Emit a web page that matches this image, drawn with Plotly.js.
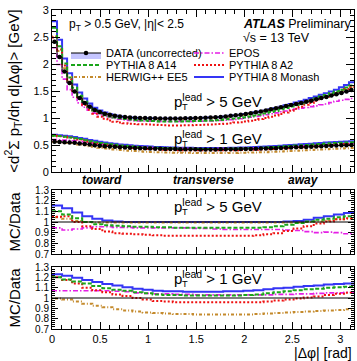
<!DOCTYPE html>
<html><head><meta charset="utf-8">
<script src="https://cdn.plot.ly/plotly-3.0.1.min.js"></script>
<style>html,body{margin:0;padding:0;background:#fff}#chart{width:357px;height:361px}</style>
</head><body><div id="chart"></div>
<script>
// ---------------- data ----------------
// main panel: 60 bins in |dphi| from 0 to pi
const up_data   = [2.41,2.13,1.86,1.65,1.49,1.37,1.28,1.21,1.15,1.11, 1.08,1.06,1.04,1.03,1.02,1.01,1.005,1.0,1.0,0.995, 0.995,0.99,0.99,0.99,0.99,0.99,0.995,0.995,1.0,1.0, 1.005,1.01,1.015,1.02,1.03,1.04,1.05,1.06,1.075,1.09, 1.105,1.12,1.14,1.16,1.18,1.20,1.22,1.24,1.26,1.28, 1.30,1.32,1.345,1.37,1.39,1.415,1.44,1.465,1.49,1.52];
const up_monash = [2.79,2.45,2.10,1.83,1.62,1.47,1.36,1.27,1.19,1.14, 1.10,1.07,1.045,1.03,1.02,1.01,1.005,1.0,1.0,0.995, 0.995,0.99,0.99,0.99,0.99,0.99,0.995,0.995,1.0,1.0, 1.005,1.01,1.015,1.02,1.03,1.04,1.05,1.06,1.075,1.09, 1.105,1.12,1.14,1.165,1.185,1.21,1.235,1.26,1.285,1.31, 1.34,1.37,1.40,1.43,1.46,1.49,1.525,1.57,1.61,1.66];
const up_a14    = [2.67,2.33,2.01,1.75,1.56,1.41,1.30,1.21,1.14,1.09, 1.05,1.03,1.01,0.995,0.98,0.97,0.96,0.955,0.955,0.945, 0.945,0.935,0.935,0.935,0.935,0.935,0.94,0.94,0.945,0.945, 0.95,0.955,0.96,0.965,0.975,0.985,0.99,1.0,1.015,1.03, 1.045,1.06,1.085,1.11,1.13,1.16,1.185,1.215,1.24,1.27, 1.30,1.33,1.36,1.40,1.425,1.46,1.49,1.525,1.565,1.60];
const up_herwig = [2.51,2.24,1.92,1.675,1.50,1.37,1.275,1.205,1.145,1.105, 1.075,1.055,1.035,1.025,1.015,1.005,1.0,0.995,0.995,0.99, 0.99,0.985,0.985,0.985,0.985,0.985,0.99,0.99,0.995,0.995, 1.0,1.005,1.01,1.015,1.025,1.035,1.045,1.055,1.07,1.085, 1.10,1.115,1.135,1.155,1.175,1.195,1.215,1.235,1.255,1.275, 1.30,1.32,1.345,1.375,1.40,1.43,1.46,1.49,1.525,1.565];
const up_epos   = [2.30,1.99,1.72,1.525,1.385,1.28,1.20,1.145,1.09,1.06, 1.03,1.01,0.99,0.98,0.965,0.955,0.95,0.945,0.945,0.94, 0.94,0.935,0.935,0.935,0.935,0.935,0.935,0.935,0.94,0.94, 0.945,0.945,0.95,0.955,0.96,0.97,0.975,0.985,1.0,1.015, 1.03,1.04,1.06,1.08,1.095,1.115,1.13,1.15,1.165,1.18, 1.195,1.21,1.225,1.245,1.26,1.285,1.31,1.33,1.345,1.36];
const up_a2     = [2.49,2.27,1.97,1.715,1.505,1.355,1.24,1.155,1.08,1.025, 0.985,0.955,0.93,0.915,0.905,0.895,0.89,0.885,0.885,0.88, 0.875,0.87,0.865,0.86,0.86,0.86,0.865,0.865,0.87,0.87, 0.875,0.88,0.885,0.89,0.895,0.905,0.915,0.92,0.935,0.95, 0.965,0.98,1.00,1.025,1.045,1.075,1.10,1.135,1.17,1.21, 1.245,1.28,1.32,1.36,1.395,1.43,1.465,1.50,1.535,1.575];

const lo_data   = [0.56,0.557,0.552,0.547,0.54,0.53,0.52,0.508,0.497,0.487, 0.479,0.472,0.466,0.46,0.455,0.45,0.446,0.442,0.438,0.435, 0.432,0.43,0.428,0.426,0.424,0.422,0.421,0.42,0.419,0.418, 0.418,0.418,0.418,0.419,0.42,0.421,0.422,0.424,0.426,0.428, 0.43,0.433,0.436,0.439,0.442,0.445,0.449,0.453,0.457,0.461, 0.465,0.469,0.473,0.477,0.482,0.486,0.49,0.494,0.497,0.50];
const lo_monash = [0.689,0.682,0.673,0.662,0.648,0.631,0.614,0.594,0.577,0.56, 0.546,0.533,0.522,0.51,0.503,0.495,0.488,0.481,0.475,0.47, 0.465,0.461,0.457,0.454,0.452,0.449,0.448,0.447,0.445,0.443, 0.443,0.443,0.443,0.444,0.446,0.448,0.45,0.453,0.456,0.459, 0.463,0.467,0.472,0.477,0.482,0.488,0.494,0.5,0.506,0.512, 0.518,0.525,0.531,0.538,0.547,0.552,0.557,0.562,0.566,0.57];
const lo_a14    = [0.672,0.666,0.654,0.64,0.626,0.61,0.588,0.569,0.552,0.536, 0.522,0.512,0.503,0.492,0.485,0.477,0.471,0.464,0.458,0.452, 0.447,0.443,0.441,0.439,0.435,0.433,0.432,0.431,0.429,0.428, 0.428,0.428,0.428,0.429,0.43,0.432,0.433,0.435,0.437,0.44, 0.443,0.448,0.453,0.459,0.464,0.47,0.476,0.483,0.49,0.496, 0.502,0.509,0.515,0.52,0.528,0.533,0.538,0.543,0.548,0.553];
const lo_herwig = [0.56,0.554,0.546,0.536,0.524,0.509,0.494,0.478,0.462,0.448, 0.436,0.425,0.417,0.407,0.4,0.394,0.388,0.382,0.377,0.372, 0.368,0.365,0.362,0.36,0.358,0.357,0.356,0.355,0.352,0.351, 0.351,0.351,0.351,0.352,0.353,0.354,0.354,0.356,0.358,0.36, 0.363,0.366,0.368,0.373,0.376,0.38,0.386,0.39,0.394,0.399, 0.404,0.408,0.413,0.418,0.422,0.427,0.432,0.436,0.44,0.444];
const lo_epos   = [0.599,0.596,0.591,0.585,0.578,0.567,0.556,0.544,0.532,0.521, 0.513,0.505,0.498,0.49,0.483,0.477,0.471,0.464,0.458,0.454, 0.45,0.447,0.445,0.442,0.439,0.437,0.435,0.433,0.432,0.431, 0.431,0.431,0.431,0.432,0.433,0.434,0.435,0.437,0.439,0.441, 0.443,0.446,0.449,0.452,0.456,0.46,0.465,0.47,0.475,0.48, 0.485,0.49,0.495,0.5,0.505,0.51,0.514,0.518,0.522,0.526];
const lo_a2     = [0.672,0.663,0.651,0.637,0.621,0.602,0.582,0.559,0.539,0.521, 0.508,0.496,0.485,0.474,0.464,0.455,0.446,0.438,0.429,0.424, 0.419,0.415,0.411,0.409,0.407,0.405,0.404,0.403,0.402,0.401, 0.401,0.401,0.401,0.402,0.403,0.404,0.405,0.407,0.409,0.411, 0.413,0.418,0.42,0.424,0.43,0.434,0.44,0.447,0.452,0.459, 0.465,0.472,0.478,0.486,0.494,0.5,0.506,0.512,0.518,0.524];

// ratio panels (MC/Data): 30 bins from 0 to pi
const r5_monash = [1.155,1.13,1.09,1.055,1.03,1.015,1.005,1.0,1.0,1.0, 1.0,1.0,1.0,1.0,1.0,1.0,1.0,1.0,1.0,1.0, 1.0,1.0,1.0,1.005,1.01,1.02,1.04,1.055,1.07,1.085];
const r5_a14    = [1.10,1.07,1.035,1.0,0.98,0.97,0.965,0.96,0.955,0.955, 0.95,0.95,0.945,0.945,0.945,0.945,0.945,0.945,0.945,0.945, 0.945,0.95,0.96,0.975,0.99,1.005,1.02,1.03,1.045,1.055];
const r5_herwig = [1.045,1.03,1.01,1.0,0.995,0.995,0.995,0.995,0.995,0.995, 0.995,0.995,0.995,0.995,0.995,0.995,0.995,0.995,0.995,0.995, 0.995,0.995,0.995,0.995,0.995,1.0,1.005,1.015,1.025,1.03];
const r5_epos   = [0.945,0.925,0.935,0.945,0.955,0.955,0.95,0.95,0.945,0.945, 0.945,0.945,0.945,0.945,0.94,0.94,0.935,0.93,0.93,0.93, 0.93,0.93,0.93,0.925,0.92,0.91,0.9,0.905,0.9,0.89];
const r5_a2     = [1.05,1.055,1.0,0.96,0.935,0.91,0.895,0.89,0.885,0.88, 0.875,0.87,0.87,0.87,0.87,0.87,0.87,0.87,0.87,0.87, 0.875,0.885,0.895,0.915,0.94,0.96,0.985,1.005,1.025,1.035];

const r1_monash = [1.23,1.215,1.195,1.175,1.155,1.135,1.12,1.105,1.09,1.08, 1.07,1.065,1.065,1.06,1.06,1.06,1.06,1.065,1.065,1.07, 1.075,1.085,1.095,1.10,1.11,1.115,1.12,1.13,1.135,1.14];
const r1_a14    = [1.20,1.18,1.16,1.14,1.115,1.095,1.08,1.07,1.055,1.045, 1.035,1.03,1.03,1.025,1.025,1.025,1.025,1.025,1.025,1.03, 1.035,1.045,1.055,1.065,1.075,1.085,1.09,1.10,1.105,1.11];
const r1_herwig = [0.995,0.985,0.965,0.945,0.925,0.91,0.89,0.88,0.87,0.86, 0.855,0.85,0.845,0.845,0.84,0.84,0.84,0.84,0.84,0.84, 0.845,0.85,0.855,0.86,0.865,0.87,0.875,0.88,0.885,0.89];
const r1_epos   = [1.07,1.07,1.07,1.07,1.07,1.07,1.065,1.06,1.05,1.045, 1.04,1.04,1.035,1.035,1.03,1.03,1.03,1.03,1.03,1.03, 1.03,1.03,1.035,1.035,1.04,1.04,1.045,1.05,1.05,1.055];
const r1_a2     = [1.20,1.175,1.14,1.10,1.075,1.055,1.035,1.02,1.0,0.985, 0.97,0.965,0.96,0.96,0.96,0.96,0.96,0.96,0.96,0.96, 0.96,0.965,0.975,0.985,0.995,1.005,1.015,1.03,1.04,1.05];

const dataRelUnc = 0.015;   // relative size of the data band
const mainTicks  = [0, 0.5, 1, 1.5, 2, 2.5, 3];
const ratioTicks = [0.7, 0.8, 0.9, 1, 1.1, 1.2, 1.3];
const ratioTickText = ['0.7','0.8','0.9','1','1.1','1.2','1.3'];
const xTicks = [0, 0.5, 1, 1.5, 2, 2.5, 3];
const regionNames = ['toward','transverse','away'];
const regionCentres = [Math.PI/6, Math.PI/2, 5*Math.PI/6];

// ---------------- helpers ----------------
const PI = Math.PI;
const edges   = n => Array.from({length:n+1},(_,i)=>i*PI/n);
const centres = n => Array.from({length:n},(_,i)=>(i+0.5)*PI/n);
const stepY   = v => v.concat([v[v.length-1]]);

const FONT = 'Liberation Sans, Arial, Helvetica, sans-serif';
const ST = {
  monash:{name:'PYTHIA 8 Monash', color:'#3535f5', dash:'solid', width:2, leg:'legend6'},
  a14:   {name:'PYTHIA 8 A14', color:'#1aa51a', dash:'4px,2px', width:2, leg:'legend2'},
  herwig:{name:'HERWIG++ EE5', color:'#c48a2c', dash:'1px,2px,3px,2px', width:2, leg:'legend3'},
  epos:  {name:'EPOS', color:'#e51ee5', dash:'5px,2px,1.5px,2px', width:1.6, leg:'legend4'},
  a2:    {name:'PYTHIA 8 A2', color:'#ee1111', dash:'2px,2px', width:2, leg:'legend5'}
};

const traces = [];
function model(vals, key, xa, ya, show){
  const s = ST[key], n = vals.length;
  traces.push({type:'scatter', mode:'lines', x:edges(n), y:stepY(vals), xaxis:xa, yaxis:ya,
    name:s.name, legend:s.leg, showlegend:show, hoverinfo:'skip',
    line:{shape:'hv', color:s.color, dash:s.dash, width:s.width}});
}
function dataSeries(vals, show){
  const n = vals.length, c = centres(n);
  traces.push({type:'scatter', mode:'lines', x:c, y:vals.map(v=>v*(1-dataRelUnc)), xaxis:'x', yaxis:'y',
    showlegend:false, hoverinfo:'skip', line:{shape:'hvh', width:0}});
  traces.push({type:'scatter', mode:'lines+markers', x:c, y:vals, xaxis:'x', yaxis:'y',
    name:'DATA (uncorrected)', legend:'legend', showlegend:show, hoverinfo:'skip',
    fill:'tonexty', fillcolor:'rgba(150,150,255,0.55)',
    line:{shape:'hvh', color:'#000', width:1}, marker:{color:'#000', size:4.5, symbol:'circle'}});
  traces.push({type:'scatter', mode:'lines', x:c, y:vals.map(v=>v*(1+dataRelUnc)), xaxis:'x', yaxis:'y',
    showlegend:false, hoverinfo:'skip', fill:'tonexty', fillcolor:'rgba(150,150,255,0.55)',
    line:{shape:'hvh', width:0}});
}

// main panel
model(up_monash,'monash','x','y',true);  model(lo_monash,'monash','x','y',false);
model(up_herwig,'herwig','x','y',true);  model(lo_herwig,'herwig','x','y',false);
model(up_epos,'epos','x','y',true);      model(lo_epos,'epos','x','y',false);
model(up_a2,'a2','x','y',true);          model(lo_a2,'a2','x','y',false);
model(up_a14,'a14','x','y',true);        model(lo_a14,'a14','x','y',false);
dataSeries(up_data, true);
dataSeries(lo_data, false);
// ratio panels
model(r5_monash,'monash','x2','y2',false); model(r5_herwig,'herwig','x2','y2',false);
model(r5_epos,'epos','x2','y2',false);     model(r5_a2,'a2','x2','y2',false);
model(r5_a14,'a14','x2','y2',false);
model(r1_monash,'monash','x3','y3',false); model(r1_herwig,'herwig','x3','y3',false);
model(r1_epos,'epos','x3','y3',false);     model(r1_a2,'a2','x3','y3',false);
model(r1_a14,'a14','x3','y3',false);

// ---------------- layout ----------------
const L=52, R=3, T=10, B=32, W=357, H=361;
const PX = x => (x-L)/(W-L-R);
const PY = y => (H-B-y)/(H-T-B);

const axBase = {showline:true, linecolor:'#000', linewidth:1, mirror:'ticks', ticks:'inside',
  tickcolor:'#000', zeroline:false, showgrid:false, tickfont:{size:11, color:'#000'}};
const xBase = Object.assign({}, axBase, {range:[0,PI], tickvals:xTicks, ticklen:7,
  minor:{ticks:'inside', dtick:0.1, tick0:0, ticklen:4, tickcolor:'#000'}});

function legendAt(xp, yp){
  return {x:PX(xp), y:PY(yp), xanchor:'left', yanchor:'middle', bgcolor:'rgba(0,0,0,0)',
    borderwidth:0, itemwidth:30, font:{size:11, family:FONT, color:'#000'}};
}

function leadLabel(txt, xp, yp, size){
  return [
    {text:'p<sup>lead</sup> &gt; '+txt, x:PX(xp), y:PY(yp), xref:'paper', yref:'paper',
     xanchor:'left', yanchor:'middle', showarrow:false, font:{size:size}},
    {text:'T', x:PX(xp), y:PY(yp), xref:'paper', yref:'paper', xanchor:'left', yanchor:'middle',
     xshift:size*0.56, yshift:-size*0.45, showarrow:false, font:{size:size*0.62}}
  ];
}

const annotations = [
  {text:'p<sub>T</sub> &gt; 0.5 GeV, |η|&lt; 2.5', x:PX(67), y:PY(25), xref:'paper', yref:'paper',
   xanchor:'left', yanchor:'middle', showarrow:false, font:{size:12}},
  {text:'<b><i>ATLAS</i></b> Preliminary', x:PX(241), y:PY(24), xref:'paper', yref:'paper',
   xanchor:'left', yanchor:'middle', showarrow:false, font:{size:12.5}},
  {text:'√s = 13 TeV', x:PX(241), y:PY(38), xref:'paper', yref:'paper',
   xanchor:'left', yanchor:'middle', showarrow:false, font:{size:12.5}},
  {text:'|Δφ| [rad]', x:1, y:PY(353), xref:'paper', yref:'paper',
   xanchor:'right', yanchor:'middle', showarrow:false, font:{size:14}}
].concat(leadLabel('5 GeV',172,100,15), leadLabel('1 GeV',172,137,15),
         leadLabel('5 GeV',172,205,15), leadLabel('1 GeV',172,277,15),
         regionNames.map((t,i)=>({text:'<b><i>'+t+'</i></b>', x:regionCentres[i], xref:'x',
           y:PY(180), yref:'paper', xanchor:'center', yanchor:'middle', showarrow:false, font:{size:12}})));

const layout = {
  width:W, height:H, margin:{l:L, r:R, t:T, b:B}, paper_bgcolor:'#fff', plot_bgcolor:'#fff',
  font:{family:FONT, color:'#000', size:11},
  showlegend:true,
  legend:legendAt(66,53), legend2:legendAt(66,65), legend3:legendAt(66,77),
  legend4:legendAt(189,53), legend5:legendAt(189,65), legend6:legendAt(189,77),
  xaxis:Object.assign({}, xBase, {anchor:'y', showticklabels:false}),
  xaxis2:Object.assign({}, xBase, {anchor:'y2', matches:'x', showticklabels:false}),
  xaxis3:Object.assign({}, xBase, {anchor:'y3', matches:'x', showticklabels:true}),
  yaxis:Object.assign({}, axBase, {domain:[PY(172),1], range:[0,3], tickvals:mainTicks, ticklen:8,
    minor:{ticks:'inside', dtick:0.1, tick0:0, ticklen:4, tickcolor:'#000'},
    title:{text:'&lt;d<sup>2</sup>Σ p<sub>T</sub>/dη d|Δφ|&gt; [GeV]', font:{size:15}, standoff:10}}),
  yaxis2:Object.assign({}, axBase, {domain:[PY(254),PY(190)], range:[0.7,1.3], tickvals:ratioTicks,
    ticktext:ratioTickText, ticklen:6, tickfont:{size:10, color:'#000'},
    minor:{ticks:'inside', dtick:0.02, tick0:0.7, ticklen:3, tickcolor:'#000'},
    title:{text:'MC/Data', font:{size:15}, standoff:10}}),
  yaxis3:Object.assign({}, axBase, {domain:[0,PY(267)], range:[0.7,1.3], tickvals:ratioTicks,
    ticktext:ratioTickText, ticklen:6, tickfont:{size:10, color:'#000'},
    minor:{ticks:'inside', dtick:0.02, tick0:0.7, ticklen:3, tickcolor:'#000'},
    title:{text:'MC/Data', font:{size:15}, standoff:10}}),
  shapes:[
    {type:'line', xref:'x2 domain', yref:'y2', x0:0, x1:1, y0:1, y1:1, line:{color:'#000', width:1.2}},
    {type:'line', xref:'x3 domain', yref:'y3', x0:0, x1:1, y0:1, y1:1, line:{color:'#000', width:1.2}}
  ],
  annotations:annotations
};

Plotly.newPlot('chart', traces, layout, {staticPlot:true, displayModeBar:false});
</script></body></html>
